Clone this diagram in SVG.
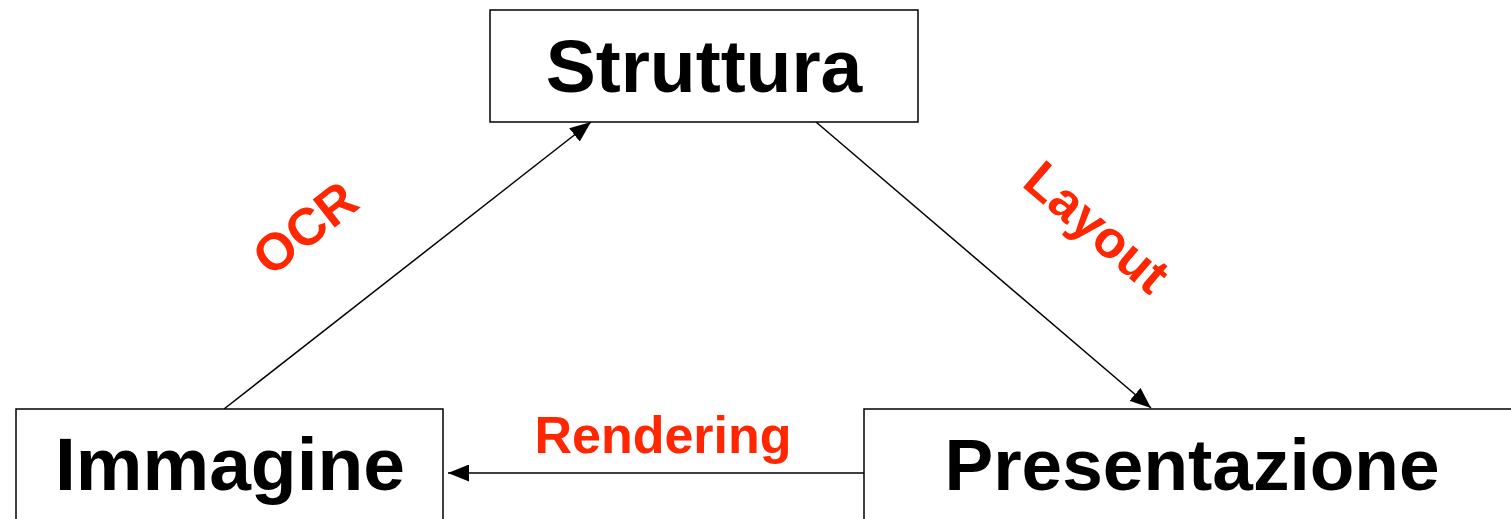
<svg xmlns="http://www.w3.org/2000/svg" width="1511" height="519" viewBox="0 0 1511 519">
<style>
.box{fill:#fff;stroke:#000;stroke-width:1.5}
.lbl{font-family:"Liberation Sans",Arial,sans-serif;font-weight:bold;font-size:75px;fill:#000;text-anchor:middle}
.elbl{font-family:"Liberation Sans",Arial,sans-serif;font-weight:bold;font-size:52px;fill:#ff2600;text-anchor:middle}
.conn{stroke:#000;stroke-width:1.5;fill:none}
</style>
<defs>
<marker id="ah" viewBox="0 0 21 17" refX="21" refY="8.5" markerWidth="21" markerHeight="17" markerUnits="userSpaceOnUse" orient="auto">
<path d="M0,0 L21,8.5 L0,17 Z" fill="#000"/>
</marker>
</defs>
<rect width="1511" height="519" fill="#fff"/>
<g id="connectors">
<line class="conn" x1="224" y1="409" x2="591" y2="122" marker-end="url(#ah)"/>
<line class="conn" x1="816" y1="122" x2="1151" y2="408" marker-end="url(#ah)"/>
<line class="conn" x1="864" y1="473" x2="448" y2="473" marker-end="url(#ah)"/>
<text class="elbl" transform="translate(305,228) rotate(-38)" y="18">OCR</text>
<text class="elbl" transform="translate(1097,227) rotate(40.5)" y="18">Layout</text>
<text class="elbl" x="663" y="453">Rendering</text>
</g>
<g id="node-struttura">
<rect class="box" x="490" y="10" width="428" height="112"/>
<text class="lbl" x="704" y="92">Struttura</text>
</g>
<g id="node-immagine">
<rect class="box" x="16" y="409" width="427" height="130"/>
<text class="lbl" x="230" y="490">Immagine</text>
</g>
<g id="node-presentazione">
<rect class="box" x="864" y="409" width="660" height="130"/>
<text class="lbl" x="1192" y="490" style="font-size:73px">Presentazione</text>
</g>
</svg>
